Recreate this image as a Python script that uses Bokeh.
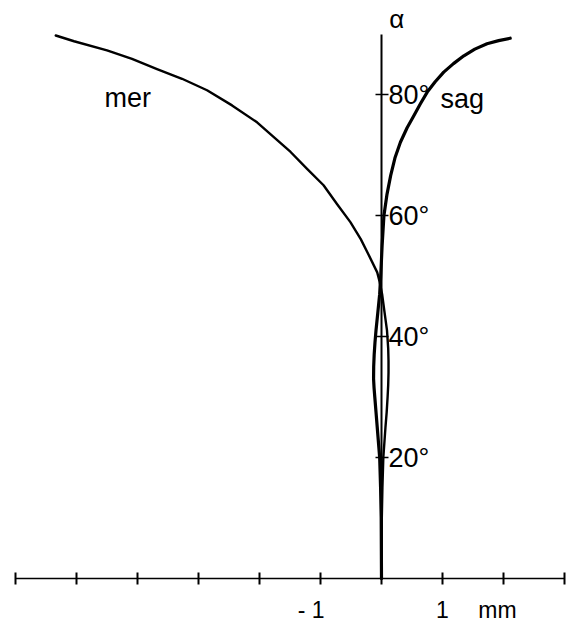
from bokeh.plotting import figure
from bokeh.models import Range1d, LinearAxis, FixedTicker
from bokeh.core.properties import value
from bokeh.embed import file_html
from bokeh.resources import INLINE

# Field angle alpha (deg) against focal-surface offset (mm)
mer_alpha = [0, 10, 15, 20, 25, 27.5, 30, 32, 34, 36, 38, 41, 44, 47, 49, 50.6,
             53.9, 56.1, 58.9, 61.9, 65.0, 67.7, 70.5, 73.0, 75.4, 78.2, 80.7,
             82.6, 84.2, 85.9, 87.3, 88.8, 89.75]
mer_x = [0, 0.005, 0.015, 0.03, 0.065, 0.085, 0.10, 0.11, 0.115, 0.115, 0.11,
         0.09, 0.05, 0.01, -0.03, -0.07, -0.23, -0.34, -0.51, -0.73, -0.95,
         -1.22, -1.49, -1.77, -2.04, -2.45, -2.86, -3.27, -3.68, -4.09, -4.50,
         -5.04, -5.34]

sag_alpha = [0, 10, 15, 20, 25, 27.5, 30, 31.5, 33, 35, 37, 39, 41, 44, 47, 50.6,
             55, 60, 63.5, 66.6, 69.5, 72.1, 74.5, 76.5, 78.5, 80.4, 82.1, 83.7,
             85.1, 86.4, 87.5, 88.4, 88.9, 89.3]
sag_x = [0, -0.005, -0.015, -0.03, -0.07, -0.09, -0.11, -0.122, -0.13, -0.128,
         -0.12, -0.107, -0.09, -0.06, -0.03, -0.01, 0.01, 0.04, 0.09, 0.15, 0.22,
         0.31, 0.42, 0.53, 0.64, 0.75, 0.88, 1.02, 1.18, 1.35, 1.53, 1.73, 1.92,
         2.11]

x_ticks = [-6, -5, -4, -3, -2, -1, 0, 1, 2, 3]
x_label_pos = [-1, 1, 2]
x_label_text = ["- 1", "1", "mm"]
x_label_offset = [4, 0, -6]
x_label_align = ["right", "center", "center"]

alpha_ticks = [20, 40, 60, 80]
alpha_labels = ["20°", "40°", "60°", "80°"]

FONT = "Liberation Sans"

p = figure(width=575, height=625,
           x_range=Range1d(-381 / 61, 194 / 61),
           y_range=Range1d(-47 / 6.05, 578 / 6.05),
           output_backend="svg", toolbar_location=None,
           x_axis_type=None, y_axis_type=None,
           min_border=0, outline_line_color=None,
           background_fill_color="white", border_fill_color="white")

# horizontal mm scale along alpha = 0
xaxis = LinearAxis(fixed_location=0, bounds=(-6, 3),
                   ticker=FixedTicker(ticks=x_ticks),
                   major_tick_in=6, major_tick_out=6,
                   major_tick_line_width=2, major_tick_line_color="black",
                   minor_tick_line_color=None,
                   axis_line_width=1.6, axis_line_color="black",
                   major_label_text_color=None)
p.add_layout(xaxis, "below")

# vertical alpha axis through x = 0
yaxis = LinearAxis(fixed_location=0, bounds=(0, 90),
                   ticker=FixedTicker(ticks=alpha_ticks),
                   major_label_overrides={t: s for t, s in zip(alpha_ticks, alpha_labels)},
                   major_tick_in=6, major_tick_out=7,
                   major_tick_line_width=1.6, major_tick_line_color="black",
                   minor_tick_line_color=None,
                   axis_line_width=2, axis_line_color="black",
                   major_label_standoff=0,
                   major_label_text_font=FONT,
                   major_label_text_font_size="27px",
                   major_label_text_color="black")
p.add_layout(yaxis, "right")

p.line(mer_x, mer_alpha, line_color="black", line_width=2.4, line_join="round", line_cap="round")
p.line(sag_x, sag_alpha, line_color="black", line_width=3.2, line_join="round", line_cap="round")

p.text(x=[-4.16], y=[79.5], text=["mer"], text_align="center", text_baseline="alphabetic",
       text_font=value(FONT), text_font_size="27px", text_color="black")
p.text(x=[0.967], y=[79.3], text=["sag"], text_align="left", text_baseline="alphabetic",
       text_font=value(FONT), text_font_size="27px", text_color="black")
p.text(x=[0.25], y=[92.5], text=["α"], text_align="center", text_baseline="middle",
       text_font=value(FONT), text_font_size="26px", text_color="black")

p.text(x=x_label_pos, y=[0] * len(x_label_pos), text=x_label_text,
       x_offset=x_label_offset, y_offset=31, text_align=x_label_align,
       text_baseline="middle", text_font=value(FONT), text_font_size="23px",
       text_color="black")

open("out.html", "w").write(file_html(p, INLINE))
